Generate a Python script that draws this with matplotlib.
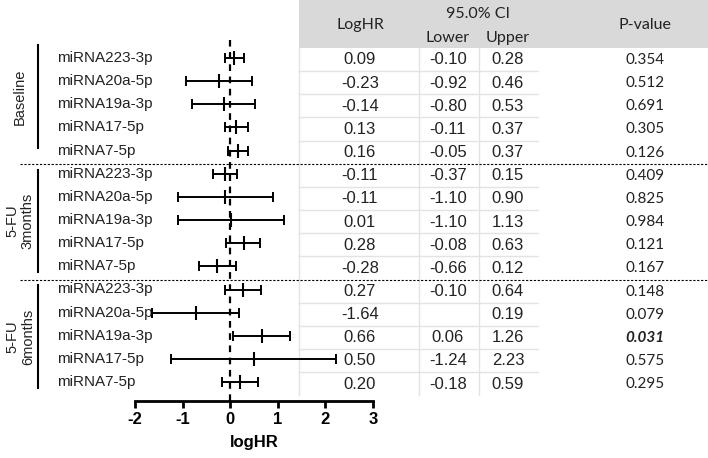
import numpy as np
import matplotlib
matplotlib.use("Agg")
from matplotlib import pyplot as plt
from matplotlib.patches import Rectangle

plt.rcParams['font.family'] = ['Liberation Sans', 'DejaVu Sans']

# region data
groups = ['Baseline', '5-FU\n3months', '5-FU\n6months']
mirnas = ['miRNA223-3p', 'miRNA20a-5p', 'miRNA19a-3p', 'miRNA17-5p', 'miRNA7-5p']

# values as drawn in the forest plot (15 rows, 3 groups x 5 miRNAs)
est = np.array([0.09, -0.23, -0.14, 0.13, 0.16,
                -0.11, -0.11, 0.01, 0.28, -0.28,
                0.27, -0.72, 0.66, 0.50, 0.20])
lo = np.array([-0.10, -0.92, -0.80, -0.11, -0.05,
               -0.37, -1.10, -1.10, -0.08, -0.66,
               -0.10, -1.64, 0.06, -1.24, -0.18])
hi = np.array([0.28, 0.46, 0.53, 0.37, 0.37,
               0.15, 0.90, 1.13, 0.63, 0.12,
               0.64, 0.19, 1.26, 2.23, 0.59])

# values as printed in the table
tab_loghr = ['0.09', '-0.23', '-0.14', '0.13', '0.16',
             '-0.11', '-0.11', '0.01', '0.28', '-0.28',
             '0.27', '-1.64', '0.66', '0.50', '0.20']
tab_lower = ['-0.10', '-0.92', '-0.80', '-0.11', '-0.05',
             '-0.37', '-1.10', '-1.10', '-0.08', '-0.66',
             '-0.10', '', '0.06', '-1.24', '-0.18']
tab_upper = ['0.28', '0.46', '0.53', '0.37', '0.37',
             '0.15', '0.90', '1.13', '0.63', '0.12',
             '0.64', '0.19', '1.26', '2.23', '0.59']
tab_p = ['0.354', '0.512', '0.691', '0.305', '0.126',
         '0.409', '0.825', '0.984', '0.121', '0.167',
         '0.148', '0.079', '0.031', '0.575', '0.295']
xticks = [-2, -1, 0, 1, 2, 3]
# endregion

W, H = 708, 458
fig = plt.figure(figsize=(W / 100, H / 100), dpi=100)

# pixel layout helpers
Y0, DY = 58.0, 23.15
def row_y(i):
    return Y0 + DY * i

n = len(est)
rows = np.arange(n)

# overlay axes in pixel coordinates for table / labels
ov = fig.add_axes([0, 0, 1, 1])
ov.set_xlim(0, W)
ov.set_ylim(H, 0)
ov.axis('off')

# header
ov.add_patch(Rectangle((299, 0), W - 299, 48, color='#d9d9d9', lw=0, zorder=0))
hfont = dict(family=['Lato', 'DejaVu Sans'], fontsize=11.5, color='#222222', ha='center', va='center')
ov.text(360, 25, 'LogHR', **hfont)
ov.text(478, 14, '95.0% CI', **hfont)
ov.text(448, 38, 'Lower', **hfont)
ov.text(508, 38, 'Upper', **hfont)
ov.text(645, 25, 'P-value', **hfont)

# table grid
tab_bottom = 48 + DY * n
for k in range(1, n):
    if k in (5, 10):
        continue
    yk = 48 + DY * k
    ov.plot([299, 538], [yk, yk], color='#e3e3e3', lw=1, zorder=1)
for xv in (299, 419, 479):
    ov.plot([xv, xv], [48, tab_bottom], color='#e3e3e3', lw=1, zorder=1)

# group separators
for k in (5, 10):
    yk = 48 + DY * k
    ov.plot([20, W], [yk, yk], color='black', lw=0.8, ls=(0, (2, 1.5)), zorder=2)

# table values
nfont = dict(fontsize=12, color='#222222', ha='center', va='center')
pfont = dict(family=['Lato', 'DejaVu Sans'], fontsize=11, color='#222222', ha='center', va='center')
for i in range(n):
    yy = row_y(i) + 2
    ov.text(360, yy, tab_loghr[i], **nfont)
    ov.text(448, yy, tab_lower[i], **nfont)
    ov.text(508, yy, tab_upper[i], **nfont)
    if tab_p[i] == '0.031':
        ov.text(645, yy, tab_p[i], fontweight='bold', fontstyle='italic', **pfont)
    else:
        ov.text(645, yy, tab_p[i], **pfont)

# row labels
for i in range(n):
    ov.text(57, row_y(i), mirnas[i % 5], fontsize=11, color='#222222', ha='left', va='center')

# group labels + brackets
spans = [(45, 148), (170, 272), (285, 388)]
for g, (a, b) in enumerate(spans):
    ov.plot([38, 38], [a, b], color='black', lw=1.5)
    ov.text(20, (a + b) / 2, groups[g], rotation=90, fontsize=10.5, color='#222222',
            ha='center', va='center', linespacing=1.15)

# forest plot
ax = fig.add_axes([135 / W, 1 - 401 / H, 238 / W, (401 - 40) / H])
ax.patch.set_alpha(0)
ax.set_xlim(-2, 3)
ax.set_ylim((401 - Y0) / DY, (40 - Y0) / DY)
ax.axvline(0, color='black', lw=1.6, ls=(0, (3, 2.5)), zorder=1)
ax.errorbar(est, rows, xerr=[est - lo, hi - est], fmt='none', ecolor='black',
            elinewidth=1.4, capsize=3.5, capthick=1.4, zorder=3)
ax.plot(est, rows, ls='none', marker='|', ms=10, mew=1.5, color='black', zorder=4)

for s in ('top', 'right', 'left'):
    ax.spines[s].set_visible(False)
ax.spines['bottom'].set_linewidth(2)
ax.set_yticks([])
ax.set_xticks(xticks)
ax.set_xticklabels([str(t) for t in xticks], fontweight='bold', fontsize=12)
ax.tick_params(axis='x', direction='out', length=5, width=2, pad=3)
ax.set_xlabel('logHR', fontweight='bold', fontsize=12, labelpad=6)

fig.savefig('out.png', dpi=100)
